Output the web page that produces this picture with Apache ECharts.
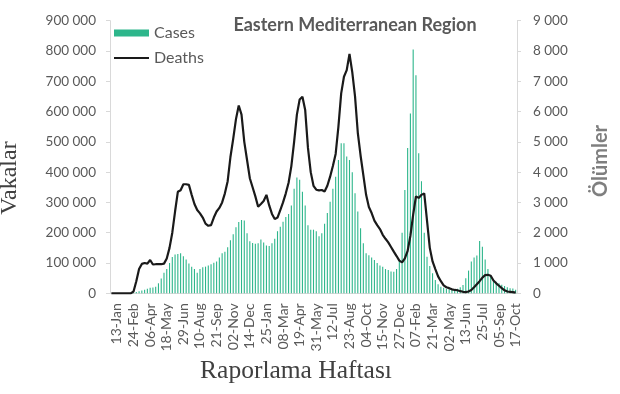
<!DOCTYPE html>
<html><head><meta charset="utf-8">
<script src="https://cdn.jsdelivr.net/npm/echarts@6/dist/echarts.min.js"></script>
<style>html,body{margin:0;padding:0;background:#fff}#c{width:620px;height:394px}</style>
</head><body><div id="c"></div>
<script>
const weeks = ["30-Dec","06-Jan","13-Jan","20-Jan","27-Jan","03-Feb","10-Feb","17-Feb","24-Feb","02-Mar","09-Mar","16-Mar","23-Mar","30-Mar","06-Apr","13-Apr","20-Apr","27-Apr","04-May","11-May","18-May","25-May","01-Jun","08-Jun","15-Jun","22-Jun","29-Jun","06-Jul","13-Jul","20-Jul","27-Jul","03-Aug","10-Aug","17-Aug","24-Aug","31-Aug","07-Sep","14-Sep","21-Sep","28-Sep","05-Oct","12-Oct","19-Oct","26-Oct","02-Nov","09-Nov","16-Nov","23-Nov","30-Nov","07-Dec","14-Dec","21-Dec","28-Dec",
"04-Jan","11-Jan","18-Jan","25-Jan","01-Feb","08-Feb","15-Feb","22-Feb","01-Mar","08-Mar","15-Mar","22-Mar","29-Mar","05-Apr","12-Apr","19-Apr","26-Apr","03-May","10-May","17-May","24-May","31-May","07-Jun","14-Jun","21-Jun","28-Jun","05-Jul","12-Jul","19-Jul","26-Jul","02-Aug","09-Aug","16-Aug","23-Aug","30-Aug","06-Sep","13-Sep","20-Sep","27-Sep","04-Oct","11-Oct","18-Oct","25-Oct","01-Nov","08-Nov","15-Nov","22-Nov","29-Nov","06-Dec","13-Dec","20-Dec","27-Dec",
"03-Jan","10-Jan","17-Jan","24-Jan","31-Jan","07-Feb","14-Feb","21-Feb","28-Feb","07-Mar","14-Mar","21-Mar","28-Mar","04-Apr","11-Apr","18-Apr","25-Apr","02-May","09-May","16-May","23-May","30-May","06-Jun","13-Jun","20-Jun","27-Jun","04-Jul","11-Jul","18-Jul","25-Jul","01-Aug","08-Aug","15-Aug","22-Aug","29-Aug","05-Sep","12-Sep","19-Sep","26-Sep","03-Oct","10-Oct","17-Oct"];

const cases = [0,0,0,0,0,0,0,500,2000,4000,
 7000,9000,12000,15000,18000,19000,22000,33000,49000,68000,
 80000,100000,120000,128000,130000,132000,122000,112000,98000,88000,
 80000,68000,80000,86000,88000,92000,96000,101000,105000,118000,
 132000,137000,152000,175000,195000,218000,235000,242000,240000,198000,
 172000,166000,164000,165000,178000,168000,158000,156000,165000,180000,
 205000,220000,236000,252000,262000,290000,345000,382000,375000,335000,
 290000,225000,210000,210000,205000,188000,198000,230000,265000,302000,
 345000,385000,440000,495000,495000,452000,440000,400000,330000,270000,
 215000,165000,132000,126000,118000,110000,100000,92000,88000,80000,
 77000,72000,71000,80000,110000,200000,341000,480000,594000,805000,
 720000,462000,370000,200000,121000,90000,66000,44000,30000,22000,
 18000,15000,13000,12000,12000,15000,20000,27000,50000,75000,
 105000,118000,125000,173000,154000,112000,80000,60000,44000,38000,
 33000,28000,24000,20000,17000,16000,12000];

const deaths = [0,0,0,0,0,0,0,0,60,400,
 800,970,1000,980,1100,950,960,960,960,980,
 1150,1500,2000,2700,3350,3400,3600,3600,3580,3250,
 2950,2750,2640,2500,2300,2230,2250,2500,2700,2820,
 3000,3300,3700,4500,5100,5750,6200,5900,5000,4400,
 3800,3500,3200,2860,2950,3050,3250,2900,2620,2450,
 2500,2750,3000,3300,3650,4200,5000,5900,6400,6490,
 6050,4800,4000,3550,3420,3400,3410,3360,3550,3850,
 4200,4600,5500,6600,7150,7370,7900,7300,6500,5300,
 4550,3900,3250,2850,2650,2400,2250,2120,1930,1800,
 1680,1530,1375,1230,1080,1020,1150,1400,1900,2600,
 3200,3150,3250,3300,2400,1500,1050,800,560,400,
 260,200,170,130,110,100,70,50,40,60,
 110,200,300,400,520,600,610,580,420,330,
 250,170,100,60,50,40,20];

const titleText = "Eastern Mediterranean Region";
const seriesNames = ["Cases","Deaths"];
const leftAxisName = "Vakalar";
const rightAxisName = "Ölümler";
const xAxisName = "Raporlama Haftası";

function fmt(v){ return String(v).replace(/\B(?=(\d{3})+(?!\d))/g, ' '); }
const lab = '#595959', axc = '#d9d9d9';
const chart = echarts.init(document.getElementById('c'), null, {renderer:'canvas'});
chart.setOption({
  animation:false,
  title:{text:titleText, left:350, top:11, textAlign:'center',
    textStyle:{fontFamily:'Lato', fontWeight:'bold', fontSize:18, color:lab}},
  legend:{orient:'vertical', left:108, top:20, itemWidth:35, itemHeight:7, itemGap:9,
    textStyle:{fontFamily:'Lato', fontSize:16, color:lab, lineHeight:16},
    data:[{name:seriesNames[0], icon:'rect'},
          {name:seriesNames[1], itemStyle:{opacity:0}, lineStyle:{width:2, color:'#1a1a1a'}}]},
  grid:{left:110, right:103, top:20.7, bottom:100.7},
  xAxis:{type:'category', data:weeks, boundaryGap:true,
    axisLine:{lineStyle:{color:axc}},
    axisTick:{interval:0, length:4, lineStyle:{color:axc}},
    axisLabel:{rotate:90, margin:10, interval:(i)=> (i-2)%6===0,
      fontFamily:'Lato', fontSize:14, color:lab}},
  yAxis:[
    {type:'value', min:0, max:900000, interval:100000, splitLine:{show:false},
     axisLine:{show:true, lineStyle:{color:axc}},
     axisTick:{show:true, length:4, lineStyle:{color:axc}},
     axisLabel:{margin:14, formatter:fmt, fontFamily:'Lato', fontSize:13.5, color:lab}},
    {type:'value', min:0, max:9000, interval:1000, splitLine:{show:false}, position:'right',
     axisLine:{show:true, lineStyle:{color:axc}},
     axisTick:{show:true, length:4, lineStyle:{color:axc}},
     axisLabel:{margin:16, formatter:fmt, fontFamily:'Lato', fontSize:13.5, color:lab}}
  ],
  graphic:[
    {type:'text', x:10, y:178, rotation:Math.PI/2,
     style:{text:leftAxisName, font:'24px "Liberation Serif"', fill:'#404040', textAlign:'center', textVerticalAlign:'middle'}},
    {type:'text', x:601, y:161, rotation:Math.PI/2,
     style:{text:rightAxisName, font:'bold 20px Lato', fill:'#7f7f7f', textAlign:'center', textVerticalAlign:'middle'}},
    {type:'text', x:296, y:371,
     style:{text:xAxisName, font:'25.5px "Liberation Serif"', fill:'#404040', textAlign:'center', textVerticalAlign:'middle'}}
  ],
  series:[
    {name:seriesNames[0], type:'bar', data:cases, yAxisIndex:0, barWidth:1.1,
     itemStyle:{color:'#2db68b'}},
    {name:seriesNames[1], type:'line', data:deaths, yAxisIndex:1, symbol:'none',
     lineStyle:{color:'#1a1a1a', width:2.2}, itemStyle:{color:'#1a1a1a'}}
  ]
});
</script></body></html>
